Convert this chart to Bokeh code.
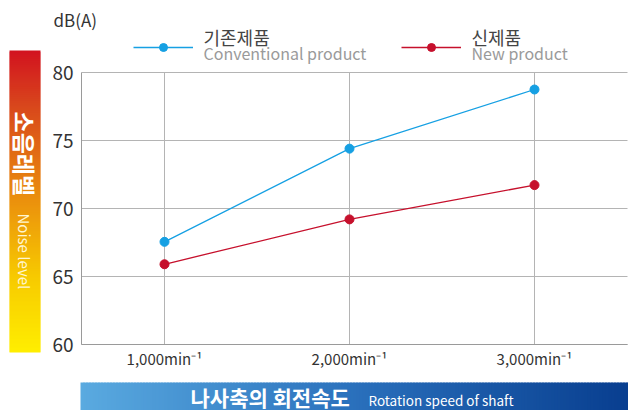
import math
from bokeh.plotting import figure
from bokeh.models import (FixedTicker, Label, Legend, LegendItem, Range1d, LinearAxis, Grid)
from bokeh.embed import file_html
from bokeh.resources import INLINE

# ---- data ----
speeds = [1000, 2000, 3000]
speed_labels = ["1,000min\u207b\u00b9", "2,000min\u207b\u00b9", "3,000min\u207b\u00b9"]
conventional = [67.55, 74.4, 78.75]
new_product = [65.9, 69.2, 71.72]
y_ticks = [60, 65, 70, 75, 80]
y_bounds = (60, 80)
series_names_ko = ["기존제품", "신제품"]
series_names_en = ["Conventional product", "New product"]
y_unit = "dB(A)"
y_title_ko = "소음레벨"
y_title_en = "Noise level"
x_title_ko = "나사축의 회전속도"
x_title_en = "Rotation speed of shaft"

FONT = "Noto Sans CJK KR"
BLUE = "#16a0e3"
RED = "#c6102c"
GRID = "#b4b4b4"
AXIS = "#9a9a9a"

W, H = 628, 410
# pixel geometry of the plot area
PX_LEFT, PX_RIGHT = 81, 627
PX_X1000, PX_PER_X = 164, 185.0 / 1000.0
PX_Y60, PX_PER_Y = 344, 13.6

def x_at(px):
    return 1000 + (px - PX_X1000) / PX_PER_X

def y_at(py):
    return 60 + (PX_Y60 - py) / PX_PER_Y

p = figure(width=W, height=H, output_backend="svg", toolbar_location=None, title=None,
           x_range=Range1d(x_at(0), x_at(W)), y_range=Range1d(y_at(H), y_at(0)),
           x_axis_type=None, y_axis_type=None, min_border=0)
p.outline_line_color = None
p.background_fill_color = "white"
p.border_fill_color = "white"
p.extra_x_ranges = {"px": Range1d(0, W)}
p.extra_y_ranges = {"px": Range1d(H, 0)}

# ---- axes (fixed inside the canvas) ----
yax = LinearAxis(ticker=FixedTicker(ticks=y_ticks), fixed_location=x_at(PX_LEFT), bounds=y_bounds)
yax.major_tick_line_color = None
yax.minor_tick_line_color = None
yax.axis_line_color = AXIS
yax.major_label_text_font = FONT
yax.major_label_text_font_size = "19px"
yax.major_label_text_color = "#333333"
yax.major_label_standoff = 2
p.add_layout(yax, "left")

xax = LinearAxis(ticker=FixedTicker(ticks=speeds), fixed_location=y_bounds[0],
                 bounds=(x_at(PX_LEFT), x_at(PX_RIGHT)))
xax.major_label_overrides = {s: l for s, l in zip(speeds, speed_labels)}
xax.major_tick_line_color = None
xax.minor_tick_line_color = None
xax.axis_line_color = AXIS
xax.major_label_text_font = FONT
xax.major_label_text_font_size = "15px"
xax.major_label_text_color = "#333333"
xax.major_label_standoff = -3
p.add_layout(xax, "below")

p.add_layout(Grid(dimension=0, ticker=xax.ticker, cross_bounds=y_bounds, grid_line_color=GRID))
p.add_layout(Grid(dimension=1, ticker=yax.ticker, cross_bounds=(x_at(PX_LEFT), x_at(PX_RIGHT)),
                  grid_line_color=GRID))

# ---- series ----
r1l = p.line(speeds, conventional, line_color=BLUE, line_width=1.3)
r1s = p.scatter(speeds, conventional, size=9, fill_color=BLUE, line_color=BLUE)
r2l = p.line(speeds, new_product, line_color=RED, line_width=1.3)
r2s = p.scatter(speeds, new_product, size=9, fill_color=RED, line_color=RED)

# ---- legend ----
for (rl, rs, ko, en, gx) in [(r1l, r1s, series_names_ko[0], series_names_en[0], 133),
                             (r2l, r2s, series_names_ko[1], series_names_en[1], 401)]:
    leg = Legend(items=[LegendItem(label=ko, renderers=[rl, rs])],
                 location=(gx, H - 59), orientation="horizontal",
                 glyph_width=60, glyph_height=20, label_height=20, label_standoff=10,
                 padding=0, margin=0, spacing=0, border_line_color=None,
                 background_fill_alpha=0, label_text_font=FONT,
                 label_text_font_size="17px", label_text_alpha=0.0)
    p.add_layout(leg)
    p.add_layout(Label(x=gx + 70, y=36, x_range_name="px", y_range_name="px",
                       text=ko, text_font=FONT, text_font_size="18px",
                       text_color="#444444", text_baseline="middle"))
    p.add_layout(Label(x=gx + 70, y=52, x_range_name="px", y_range_name="px",
                       text=en, text_font=FONT, text_font_size="16px",
                       text_color="#9a9a9a", text_baseline="middle"))

# unit
p.add_layout(Label(x=53, y=19, x_range_name="px", y_range_name="px",
                   text=y_unit, text_font=FONT, text_font_size="17px",
                   text_color="#333333", text_baseline="middle"))

def lerp_stops(stops, t):
    for i in range(len(stops) - 1):
        t0, c0 = stops[i]
        t1, c1 = stops[i + 1]
        if t <= t1:
            f = (t - t0) / (t1 - t0) if t1 > t0 else 0
            return tuple(int(round(c0[k] + (c1[k] - c0[k]) * f)) for k in range(3))
    return stops[-1][1]

def hexc(c):
    return "#%02x%02x%02x" % c

# ---- left gradient strip ----
LB_L, LB_R, LB_T, LB_B = 9, 40, 50, 352
left_stops = [(0.0, (210, 18, 32)), (0.18, (216, 70, 28)), (0.52, (236, 150, 12)),
              (0.75, (247, 202, 0)), (1.0, (255, 238, 0))]
tops, bots, cols = [], [], []
yy = LB_T
while yy < LB_B:
    yb = min(yy + 2, LB_B)
    t = ((yy + yb) / 2 - LB_T) / (LB_B - LB_T)
    tops.append(yy)
    bots.append(min(yb + 1, LB_B))
    cols.append(hexc(lerp_stops(left_stops, t)))
    yy = yb
p.quad(left=LB_L, right=LB_R, top=tops, bottom=bots, fill_color=cols, line_color=None,
       x_range_name="px", y_range_name="px")
p.add_layout(Label(x=24.5, y=111, x_range_name="px", y_range_name="px",
                   text=y_title_ko, angle=-math.pi / 2, text_font=FONT,
                   text_font_style="bold", text_font_size="23px", text_color="white",
                   text_align="left", text_baseline="middle"))
p.add_layout(Label(x=23.5, y=213, x_range_name="px", y_range_name="px",
                   text=y_title_en, angle=-math.pi / 2, text_font=FONT,
                   text_font_size="15px", text_color="#fff6d0",
                   text_align="left", text_baseline="middle"))

# ---- bottom gradient strip ----
BB_L, BB_R, BB_T, BB_B = 80, 628, 382, 410
bottom_stops = [(0.0, (90, 170, 224)), (0.5, (42, 112, 188)), (1.0, (8, 62, 143))]
lefts, rights, bcols = [], [], []
xx = BB_L
while xx < BB_R:
    xr = min(xx + 3, BB_R)
    t = ((xx + xr) / 2 - BB_L) / (BB_R - BB_L)
    lefts.append(xx)
    rights.append(min(xr + 1, BB_R))
    bcols.append(hexc(lerp_stops(bottom_stops, t)))
    xx = xr
p.quad(left=lefts, right=rights, top=BB_T, bottom=BB_B + 2, fill_color=bcols, line_color=None,
       x_range_name="px", y_range_name="px")
p.add_layout(Label(x=190, y=396, x_range_name="px", y_range_name="px",
                   text=x_title_ko, text_font=FONT, text_font_style="bold",
                   text_font_size="21px", text_color="white", text_baseline="middle"))
p.add_layout(Label(x=368, y=399, x_range_name="px", y_range_name="px",
                   text=x_title_en, text_font=FONT,
                   text_font_size="13.5px", text_color="white", text_baseline="middle"))

open("out.html", "w").write(file_html(p, INLINE))
